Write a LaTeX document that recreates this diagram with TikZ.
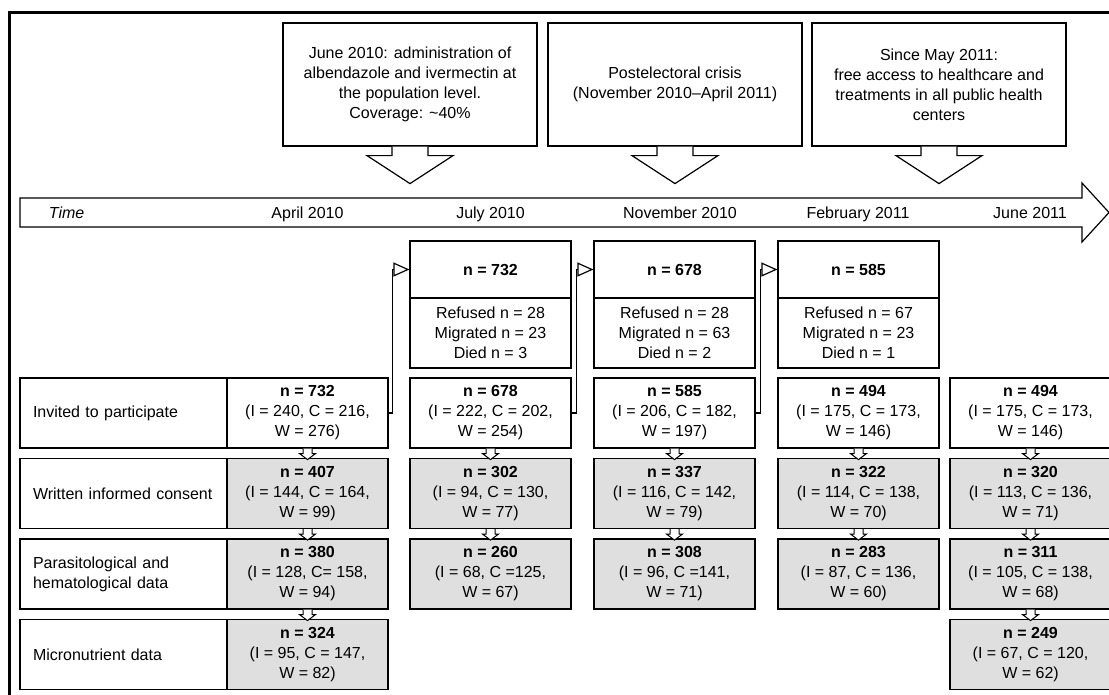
\documentclass[tikz,border=0pt]{standalone}
\usepackage{fontspec}
\setmainfont{Liberation Sans}
\usetikzlibrary{arrows.meta}

\begin{document}
\begin{tikzpicture}[x=1pt, y=-1pt, line width=1.2pt,
    font=\fontsize{16}{20}\selectfont,
    >={Triangle[open, length=16pt, width=14pt]},
    cell/.style={draw, rectangle, minimum width=161pt, minimum height=70pt, inner sep=0pt, align=center},
    grey/.style={cell, fill=gray!25},
    rowname/.style={draw, rectangle, text width=181pt, inner xsep=13pt, inner ysep=0pt, minimum height=70pt, align=left},
    event/.style={draw, rectangle, minimum width=254pt, minimum height=123pt, align=center},
    month/.style={anchor=base},
    drop/.style={draw, fill=white, line width=1pt}]
    \useasboundingbox (0,0) rectangle (1109,694);

    % frame
    \draw[line width=3pt] (9,710) -- (9,12) -- (1130,12);

    % events above the time line
    \node[event] (ev1) at (410,84.5) {June 2010: administration of\\albendazole and ivermectin at\\the population level.\\Coverage: \textasciitilde40\%};
    \node[event] (ev2) at (675,84.5) {Postelectoral crisis\\(November 2010--April 2011)};
    \node[event] (ev3) at (939,84.5) {Since May 2011:\\free access to healthcare and\\treatments in all public health\\centers};
    \draw[fill=white] (ev1.south) ++(-18,0) -- ++(0,9) -- ++(-25,0) -- ++(43,28) -- ++(43,-28) -- ++(-25,0) -- ++(0,-9);
    \draw[fill=white] (ev2.south) ++(-18,0) -- ++(0,9) -- ++(-25,0) -- ++(43,28) -- ++(43,-28) -- ++(-25,0) -- ++(0,-9);
    \draw[fill=white] (ev3.south) ++(-18,0) -- ++(0,9) -- ++(-25,0) -- ++(43,28) -- ++(43,-28) -- ++(-25,0) -- ++(0,-9);

    % time line
    \draw[fill=white] (20,198) -- (1082,198) -- (1082,183) -- (1109,212.5)
      -- (1082,242) -- (1082,227) -- (20,227) -- cycle;
    \node[month, anchor=base west] (time) at (45,218.5) {\textit{Time}};
    \node[month] (apr) at (307.5,218.5) {April 2010};
    \node[month] (jul) at (490.5,218.5) {July 2010};
    \node[month] (nov) at (680,218.5) {November 2010};
    \node[month] (feb) at (858,218.5) {February 2011};
    \node[month] (jun) at (1030,218.5) {June 2011};

    % row names
    \node[rowname] (invited) at (123.5,413) {Invited to participate};
    \node[rowname] (consent) at (123.5,493.5) {Written informed consent};
    \node[rowname] (parasit) at (123.5,574) {Parasitological and\\hematological data};
    \node[rowname] (micro) at (123.5,654.5) {Micronutrient data};

    % April 2010
    \node[cell] (inv1) at (307.5,413) {\textbf{n = 732}\\(I = 240, C = 216,\\W = 276)};
    \node[grey] (con1) at (307.5,493.5) {\textbf{n = 407}\\(I = 144, C = 164,\\W = 99)};
    \node[grey] (par1) at (307.5,574) {\textbf{n = 380}\\(I = 128, C= 158,\\W = 94)};
    \node[grey] (mic1) at (307.5,654.5) {\textbf{n = 324}\\(I = 95, C = 147,\\W = 82)};

    % July 2010
    \node[cell, minimum height=57pt] (top2) at (490.5,269.5) {\textbf{n = 732}};
    \node[cell] (out2) at (490.5,333) {Refused n = 28\\Migrated n = 23\\Died n = 3};
    \node[cell] (inv2) at (490.5,413) {\textbf{n = 678}\\(I = 222, C = 202,\\W = 254)};
    \node[grey] (con2) at (490.5,493.5) {\textbf{n = 302}\\(I = 94, C = 130,\\W = 77)};
    \node[grey] (par2) at (490.5,574) {\textbf{n = 260}\\(I = 68, C =125,\\W = 67)};

    % November 2010
    \node[cell, minimum height=57pt] (top3) at (674.5,269.5) {\textbf{n = 678}};
    \node[cell] (out3) at (674.5,333) {Refused n = 28\\Migrated n = 63\\Died n = 2};
    \node[cell] (inv3) at (674.5,413) {\textbf{n = 585}\\(I = 206, C = 182,\\W = 197)};
    \node[grey] (con3) at (674.5,493.5) {\textbf{n = 337}\\(I = 116, C = 142,\\W = 79)};
    \node[grey] (par3) at (674.5,574) {\textbf{n = 308}\\(I = 96, C =141,\\W = 71)};

    % February 2011
    \node[cell, minimum height=57pt] (top4) at (858.5,269.5) {\textbf{n = 585}};
    \node[cell] (out4) at (858.5,333) {Refused n = 67\\Migrated n = 23\\Died n = 1};
    \node[cell] (inv4) at (858.5,413) {\textbf{n = 494}\\(I = 175, C = 173,\\W = 146)};
    \node[grey] (con4) at (858.5,493.5) {\textbf{n = 322}\\(I = 114, C = 138,\\W = 70)};
    \node[grey] (par4) at (858.5,574) {\textbf{n = 283}\\(I = 87, C = 136,\\W = 60)};

    % June 2011
    \node[cell] (inv5) at (1030.5,413) {\textbf{n = 494}\\(I = 175, C = 173,\\W = 146)};
    \node[grey] (con5) at (1030.5,493.5) {\textbf{n = 320}\\(I = 113, C = 136,\\W = 71)};
    \node[grey] (par5) at (1030.5,574) {\textbf{n = 311}\\(I = 105, C = 138,\\W = 68)};
    \node[grey] (mic5) at (1030.5,654.5) {\textbf{n = 249}\\(I = 67, C = 120,\\W = 62)};

    % follow-up
    \draw[->] (inv1.east) -- ++(4,0) |- (top2.west);
    \draw[->] (inv2.east) -- ++(5,0) |- (top3.west);
    \draw[->] (inv3.east) -- ++(5,0) |- (top4.west);

    % small arrows between rows
    \foreach \n in {inv1,con1,par1,inv2,con2,inv3,con3,inv4,con4,inv5,con5,par5}
      \draw[drop] (\n.south) ++(-4.5,0) -- ++(0,5) -- ++(-3.5,0) -- ++(8,6) -- ++(8,-6) -- ++(-3.5,0) -- ++(0,-5);
\end{tikzpicture}
\end{document}
